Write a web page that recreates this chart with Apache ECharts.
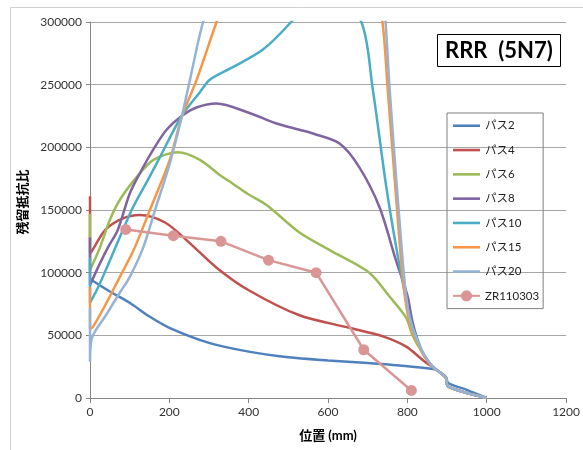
<!DOCTYPE html>
<html>
<head>
<meta charset="utf-8">
<script src="https://cdn.jsdelivr.net/npm/echarts@6/dist/echarts.min.js"></script>
<style>
html,body{margin:0;padding:0;background:#fff;}
#c{width:583px;height:450px;}
</style>
</head>
<body>
<div id="c"></div>
<script>
// ---- data (x: 位置 mm, y: 残留抵抗比) ----
var seriesNames = ['パス2','パス4','パス6','パス8','パス10','パス15','パス20','ZR110303'];
var xTicks = [0,200,400,600,800,1000,1200];
var yTicks = [0,50000,100000,150000,200000,250000,300000];

var pass2 = [[0,95000],[50,85000],[100,76000],[150,65000],[200,56000],[300,44000],[400,37000],[500,32500],[600,30000],[700,28000],[780,26000],[868,23000],[880,21000],[897,17000],[903,12000],[950,6500],[1000,0]];
var pass4 = [[0,161000],[0,115000],[10,120000],[38,134000],[80,143000],[126,146000],[189,140000],[250,124000],[319,104000],[400,86000],[528,66000],[654,56000],[740,49000],[797,41000],[840,30000],[880,21000],[897,16000],[903,9000],[1000,0]];
var pass6 = [[0,147000],[0,102000],[25,120000],[50,142000],[75,158000],[117,176000],[160,190000],[222,196000],[277,190000],[327,178000],[360,171000],[397,163000],[445,154000],[528,132000],[604,118000],[704,100000],[755,81000],[797,64000],[813,50000],[838,36000],[863,25000],[880,21000],[897,16000],[903,9000],[1000,0]];
var pass8 = [[0,128000],[0,90000],[20,104000],[45,120000],[70,134000],[100,163000],[126,179500],[159,198000],[193,214000],[231,225000],[270,232000],[319,235000],[397,228000],[470,219000],[528,214000],[562,211000],[629,203000],[679,184000],[730,152000],[771,110000],[800,82000],[812,62000],[824,48000],[839,36000],[863,25000],[880,21000],[897,16000],[903,9000],[1000,0]];
var pass10 = [[0,112000],[0,76000],[20,88000],[45,106000],[83,134000],[108,152000],[146,174000],[176,192000],[231,225000],[277,244000],[302,254000],[360,264000],[436,278000],[507,300000],[600,335000],[684,300000],[712,248000],[747,168000],[772,120000],[797,78000],[812,58000],[825,47000],[840,35000],[863,25000],[880,21000],[897,16000],[903,9000],[1000,0]];
var pass15 = [[0,88600],[0,55000],[8,57000],[40,75000],[75,96500],[110,118000],[151,150000],[201,190000],[231,224000],[269,254000],[319,300000],[400,370000],[550,420000],[700,360000],[737,300000],[750,248000],[763,195000],[776,142000],[788,96000],[800,68000],[812,54000],[826,44000],[841,34000],[863,25000],[880,21000],[897,16000],[903,9000],[1000,0]];
var pass20 = [[0,72000],[0,29000],[5,48000],[40,66000],[75,84000],[100,96500],[134,120000],[164,150000],[201,187000],[231,224000],[252,254000],[285,300000],[400,420000],[600,450000],[720,400000],[745,300000],[755,248000],[767,195000],[780,142000],[792,96000],[803,68000],[815,54000],[828,44000],[843,34000],[864,25000],[880,21000],[897,16000],[903,9000],[1000,0]];
var zrX = [90,210,330,450,570,690,810];
var zrY = [134500,129500,125000,110000,100000,38500,6000];

var colors = ['#4F81BD','#C0504D','#9BBB59','#8064A2','#4BACC6','#F79646','#95B3D7','#D99694'];
var lineData = [pass2,pass4,pass6,pass8,pass10,pass15,pass20];

var FONT = 'Lato, "Noto Sans CJK JP", sans-serif';
var LINE_ICON = 'path://M0,0 L27,0 L27,2.6 L0,2.6 Z';
var series = lineData.map(function(d,i){
  return {
    name: seriesNames[i], type:'line', data:d, smooth:0.3,
    showSymbol:false, symbol:'none', clip:true,
    lineStyle:{width:2.5,color:colors[i]}, itemStyle:{color:colors[i]}
  };
});
series.push({
  name: seriesNames[7], type:'line',
  data: zrX.map(function(x,i){return [x,zrY[i]];}),
  symbol:'circle', symbolSize:11, clip:true,
  lineStyle:{width:2.5,color:colors[7]}, itemStyle:{color:colors[7]}
});

var legendData = seriesNames.map(function(n,i){
  return i < 7 ? {name:n, icon:LINE_ICON} : {name:n};
});

var chart = echarts.init(document.getElementById('c'), null, {renderer:'canvas'});
chart.setOption({
  animation:false,
  color:colors,
  textStyle:{fontFamily:FONT},
  grid:{left:90,right:16,top:22,bottom:52,containLabel:false},
  title:{
    text:'RRR  (5N7)', left:437, top:34,
    borderColor:'#000', borderWidth:1, padding:[6,8,5,8],
    textStyle:{fontFamily:FONT,fontWeight:'bold',fontSize:22,color:'#000'}
  },
  legend:{
    orient:'vertical', left:447, top:113,
    data:legendData,
    borderColor:'#7f7f7f', borderWidth:1, padding:[7,4,7,5],
    itemWidth:27, itemHeight:14, itemGap:12.8,
    textStyle:{fontFamily:FONT,fontSize:11.5,color:'#222'}
  },
  xAxis:{
    type:'value', min:0, max:1200, interval:200,
    name:'位置 (mm)', nameLocation:'middle', nameGap:31,
    nameTextStyle:{fontFamily:FONT,fontWeight:'bold',fontSize:13,color:'#000'},
    axisLine:{show:true,lineStyle:{color:'#868686',width:1}},
    axisTick:{show:true,length:5,lineStyle:{color:'#868686'}},
    axisLabel:{fontFamily:FONT,fontSize:12,color:'#333',margin:8,formatter:function(v){return String(v);}},
    splitLine:{show:false}
  },
  yAxis:{
    type:'value', min:0, max:300000, interval:50000,
    axisLine:{show:true,lineStyle:{color:'#868686',width:1}},
    axisTick:{show:true,length:4,lineStyle:{color:'#868686'}},
    axisLabel:{fontFamily:FONT,fontSize:12,color:'#333',margin:8,formatter:function(v){return String(v);}},
    splitLine:{show:true,lineStyle:{color:'#a6a6a6',width:1}}
  },
  graphic:[{
    type:'rect', shape:{x:10.5,y:7.5,width:580,height:460},
    style:{fill:'none',stroke:'#d0d0d0',lineWidth:1}, silent:true, z:-1
  },{
    type:'text', x:23, y:202, rotation:Math.PI/2,
    style:{text:'残留抵抗比', fontFamily:FONT, fontWeight:'bold', fontSize:13, fill:'#000', align:'center', verticalAlign:'middle'},
    silent:true
  }],
  series:series
});
</script>
</body>
</html>
